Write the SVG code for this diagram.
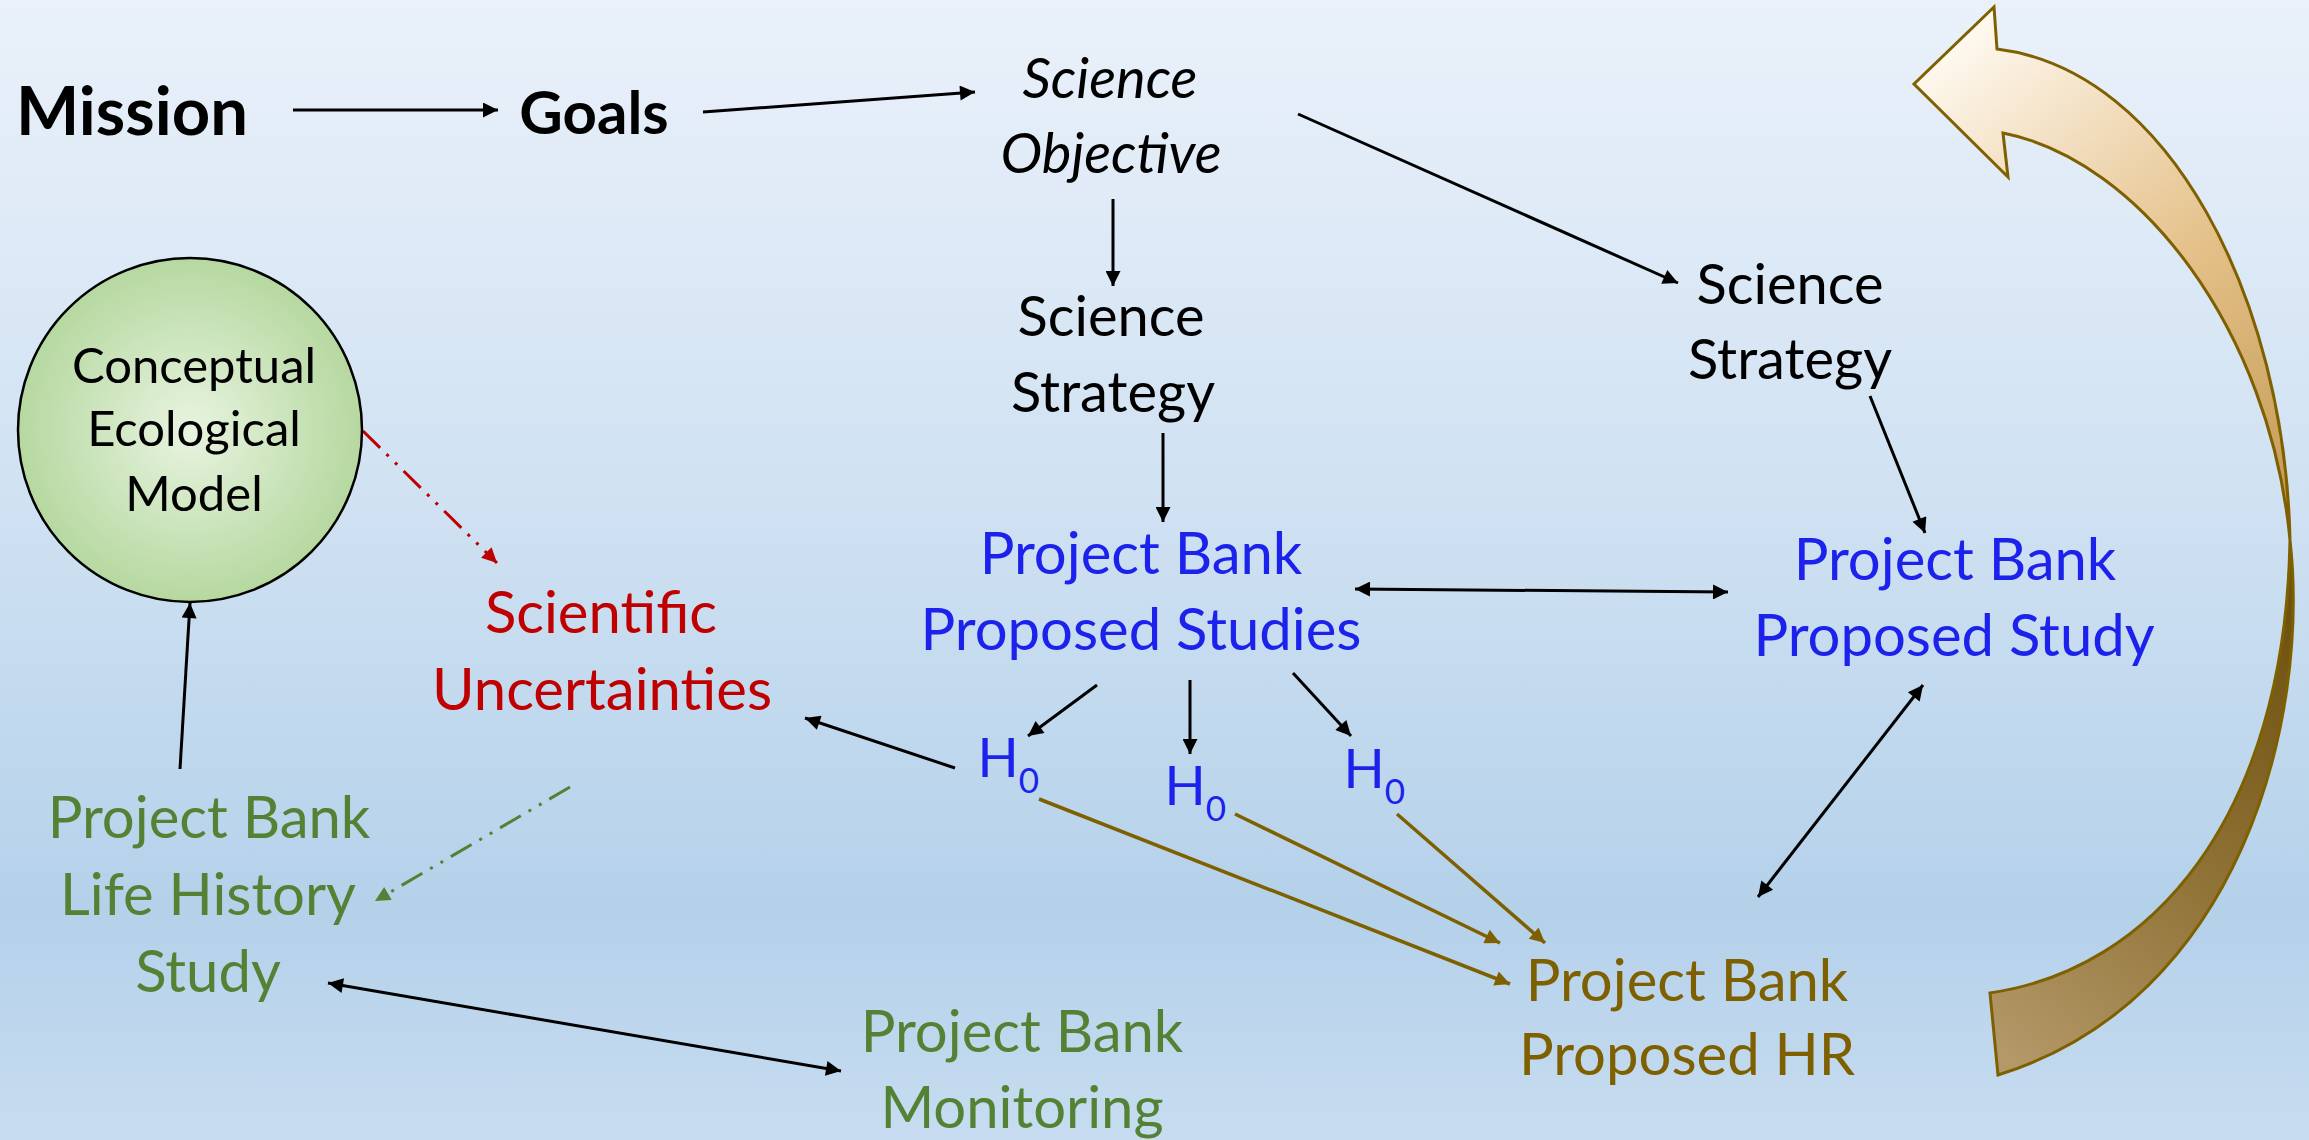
<svg xmlns="http://www.w3.org/2000/svg" width="2309" height="1140" viewBox="0 0 2309 1140">
  <defs>
    <linearGradient id="bg" x1="0" y1="0" x2="0" y2="1">
      <stop offset="0" stop-color="#eaf1fa"/>
      <stop offset="0.45" stop-color="#cfe1f2"/>
      <stop offset="0.8" stop-color="#b4d1ea"/>
      <stop offset="1" stop-color="#c7dcf0"/>
    </linearGradient>
    <radialGradient id="ball" cx="0.5" cy="0.5" r="0.5">
      <stop offset="0" stop-color="#e8f4e0"/>
      <stop offset="1" stop-color="#b6d8a0"/>
    </radialGradient>
    <linearGradient id="bandTop" gradientUnits="userSpaceOnUse" x1="1920" y1="60" x2="2290" y2="520">
      <stop offset="0" stop-color="#fffaf2"/>
      <stop offset="0.55" stop-color="#e4c088"/>
      <stop offset="1" stop-color="#c39a55"/>
    </linearGradient>
    <linearGradient id="bandBack" gradientUnits="userSpaceOnUse" x1="1990" y1="1040" x2="2300" y2="620">
      <stop offset="0" stop-color="#b39868"/>
      <stop offset="0.5" stop-color="#8f7235"/>
      <stop offset="1" stop-color="#6f5210"/>
    </linearGradient>
    <marker id="ah" viewBox="0 0 10 10" refX="10" refY="5" markerWidth="20" markerHeight="15" markerUnits="userSpaceOnUse" orient="auto-start-reverse">
      <path d="M0,0 L10,5 L0,10 z" fill="#000"/>
    </marker>
    <marker id="ahBrown" viewBox="0 0 10 10" refX="10" refY="5" markerWidth="20" markerHeight="15" markerUnits="userSpaceOnUse" orient="auto">
      <path d="M0,0 L10,5 L0,10 z" fill="#7f6000"/>
    </marker>
    <marker id="ahRed" viewBox="0 0 10 10" refX="10" refY="5" markerWidth="20" markerHeight="15" markerUnits="userSpaceOnUse" orient="auto">
      <path d="M0,0 L10,5 L0,10 z" fill="#c00000"/>
    </marker>
    <marker id="ahGreen" viewBox="0 0 10 10" refX="10" refY="5" markerWidth="20" markerHeight="15" markerUnits="userSpaceOnUse" orient="auto">
      <path d="M0,0 L10,5 L0,10 z" fill="#548235"/>
    </marker>
  </defs>
  <style>
    text { font-family: Lato, "Liberation Sans", sans-serif; text-anchor: middle; }
    .big { font-size: 58px; }
    .black { fill: #000; }
    .blue { fill: #1c22ec; }
    .red { fill: #c00000; }
    .green { fill: #548235; }
    .brown { fill: #7f6000; }
    .ln { fill: none; stroke: #000; stroke-width: 3; }
    .bl { fill: none; stroke: #7f6000; stroke-width: 3.5; }
    .dd { fill: none; stroke-width: 3; stroke-dasharray: 24 9 3 9 3 9; }
  </style>

  <rect width="2309" height="1140" fill="url(#bg)"/>

  <!-- big curved return arrow -->
  <g id="return-arrow" stroke="#7f6000" stroke-width="3" stroke-linejoin="miter">
    <path d="M1990,993 C2150,970 2285,820 2290,540 C2310,720 2240,1000 1998,1075 Z" fill="url(#bandBack)"/>
    <path d="M1997,49 L1994,7 L1914,84 L2008,177 L2003,133 C2140,160 2270,330 2290,540 C2285,300 2170,70 1997,49 Z" fill="url(#bandTop)"/>
  </g>

  <!-- connectors -->
  <g id="connectors">
    <line class="ln" x1="293" y1="110" x2="498" y2="110" marker-end="url(#ah)"/>
    <line class="ln" x1="703" y1="112" x2="975" y2="92" marker-end="url(#ah)"/>
    <line class="ln" x1="1113" y1="199" x2="1113" y2="286" marker-end="url(#ah)"/>
    <line class="ln" x1="1163" y1="433" x2="1163" y2="522" marker-end="url(#ah)"/>
    <line class="ln" x1="1298" y1="114" x2="1678" y2="283" marker-end="url(#ah)"/>
    <line class="ln" x1="1870" y1="396" x2="1925" y2="533" marker-end="url(#ah)"/>
    <line class="ln" x1="1355" y1="589" x2="1728" y2="592" marker-start="url(#ah)" marker-end="url(#ah)"/>
    <line class="ln" x1="1923" y1="685" x2="1758" y2="897" marker-start="url(#ah)" marker-end="url(#ah)"/>
    <line class="ln" x1="1097" y1="685" x2="1028" y2="736" marker-end="url(#ah)"/>
    <line class="ln" x1="1190" y1="680" x2="1190" y2="754" marker-end="url(#ah)"/>
    <line class="ln" x1="1293" y1="673" x2="1351" y2="736" marker-end="url(#ah)"/>
    <line class="ln" x1="955" y1="768" x2="805" y2="718" marker-end="url(#ah)"/>
    <line class="ln" x1="180" y1="769" x2="190" y2="603" marker-end="url(#ah)"/>
    <line class="ln" x1="328" y1="983" x2="841" y2="1071" marker-start="url(#ah)" marker-end="url(#ah)"/>
    <line class="bl" x1="1039" y1="799" x2="1510" y2="984" marker-end="url(#ahBrown)"/>
    <line class="bl" x1="1235" y1="814" x2="1500" y2="943" marker-end="url(#ahBrown)"/>
    <line class="bl" x1="1397" y1="814" x2="1545" y2="943" marker-end="url(#ahBrown)"/>
    <line class="dd" stroke="#c00000" x1="363" y1="431" x2="497" y2="563" marker-end="url(#ahRed)"/>
    <line class="dd" stroke="#548235" x1="570" y1="787" x2="375" y2="901" marker-end="url(#ahGreen)"/>
  </g>

  <g id="mission"><text x="132" y="135" font-weight="700" font-size="67">Mission</text></g>
  <g id="goals"><text x="594" y="134" font-weight="700" font-size="60">Goals</text></g>
  <g id="science-objective" font-style="italic" font-size="56">
    <text x="1110" y="98">Science</text>
    <text x="1111" y="173">Objective</text>
  </g>
  <g id="science-strategy-1" font-size="56">
    <text x="1111" y="336">Science</text>
    <text x="1113" y="412">Strategy</text>
  </g>
  <g id="science-strategy-2" font-size="56">
    <text x="1790" y="304">Science</text>
    <text x="1790" y="379">Strategy</text>
  </g>
  <g id="proposed-studies" class="blue big">
    <text x="1141" y="574">Project Bank</text>
    <text x="1141" y="650">Proposed Studies</text>
  </g>
  <g id="proposed-study" class="blue big">
    <text x="1955" y="580">Project Bank</text>
    <text x="1954" y="656">Proposed Study</text>
  </g>
  <g id="proposed-hr" class="brown big">
    <text x="1687" y="1001">Project Bank</text>
    <text x="1687" y="1075">Proposed HR</text>
  </g>
  <g id="h0-1" class="blue"><text x="998" y="777" font-size="54">H</text><text x="1029" y="793" font-size="35">0</text></g>
  <g id="h0-2" class="blue"><text x="1185" y="805" font-size="54">H</text><text x="1216" y="821" font-size="35">0</text></g>
  <g id="h0-3" class="blue"><text x="1364" y="788" font-size="54">H</text><text x="1395" y="804" font-size="35">0</text></g>
  <g id="scientific-uncertainties" class="red big">
    <text x="601" y="633">Scientific</text>
    <text x="602" y="710">Uncertainties</text>
  </g>
  <g id="conceptual-model">
    <circle cx="190" cy="430" r="172" fill="url(#ball)" stroke="#000" stroke-width="2.5"/>
    <text x="194" y="383" font-size="49">Conceptual</text>
    <text x="194" y="446" font-size="49">Ecological</text>
    <text x="194" y="511" font-size="49">Model</text>
  </g>
  <g id="life-history" class="green big">
    <text x="209" y="838">Project Bank</text>
    <text x="208" y="915">Life History</text>
    <text x="208" y="992">Study</text>
  </g>
  <g id="monitoring" class="green big">
    <text x="1022" y="1052">Project Bank</text>
    <text x="1022" y="1128">Monitoring</text>
  </g>
</svg>
